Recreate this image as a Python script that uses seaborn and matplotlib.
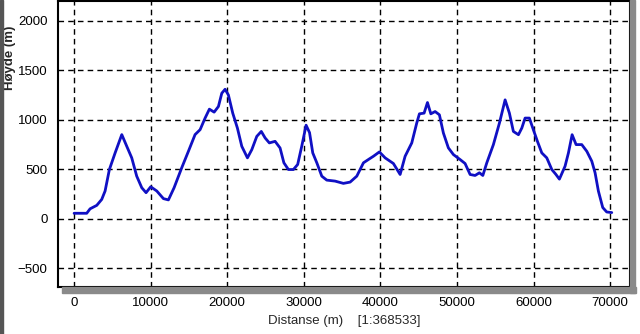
import numpy as np
import pandas as pd
import matplotlib
matplotlib.use("Agg")
import matplotlib.pyplot as plt
from matplotlib.patches import Rectangle
from matplotlib.ticker import MultipleLocator
import seaborn as sns

# profile
distance = [0, 1650, 2090, 2960, 3610, 4050, 4610, 5360, 6230, 6880, 7530, 8180,
            8840, 9400, 10010, 10800, 11670, 12320, 13060, 14060, 14930, 15800,
            16460, 17110, 17670, 18290, 18850, 19290, 19720, 20150, 20720, 21330,
            21900, 22640, 23210, 23860, 24450, 24950, 25500, 26250, 26900, 27400,
            27990, 28640, 29200, 29730, 30300, 30750, 31170, 31700, 32350, 33000,
            34090, 35170, 36050, 36920, 37790, 38570, 39090, 39870, 40620, 41700,
            42580, 43230, 44100, 44750, 45100, 45710, 46150, 46590, 47150, 47710,
            48230, 48880, 49540, 50410, 51060, 51720, 52370, 52930, 53380, 53900,
            54760, 55550, 56290, 56850, 57370, 58030, 58470, 58900, 59460, 59980,
            60510, 61080, 61730, 62390, 62900, 63380, 64120, 64560, 65040, 65560,
            66300, 66960, 67610, 68040, 68470, 69040, 69560, 70220]
elevation = [55, 55, 100, 135, 195, 280, 497, 665, 850, 732, 615, 430,
             313, 263, 323, 280, 203, 190, 313, 515, 681, 850,
             900, 1017, 1107, 1077, 1134, 1268, 1308, 1251, 1067, 916,
             732, 615, 698, 832, 882, 816, 766, 782, 715, 565,
             497, 497, 548, 732, 945, 870, 665, 565, 430, 390,
             380, 357, 370, 430, 565, 605, 631, 675, 615, 558,
             447, 631, 766, 967, 1060, 1067, 1174, 1060, 1083, 1050,
             866, 716, 648, 598, 558, 447, 437, 464, 437, 565,
             749, 967, 1201, 1067, 882, 849, 916, 1017, 1017, 899,
             782, 665, 615, 497, 450, 400, 531, 665, 849, 749,
             749, 681, 581, 464, 280, 113, 68, 62]

x_ticks = [0, 10000, 20000, 30000, 40000, 50000, 60000, 70000]
y_ticks = [-500, 0, 500, 1000, 1500, 2000]

df = pd.DataFrame({"Distanse": distance, "Hoyde": elevation})

sns.set_style("white")
plt.rcParams["font.family"] = ["Liberation Sans", "DejaVu Sans"]

fig = plt.figure(figsize=(6.4, 3.34), dpi=100)
ax = fig.add_axes([58 / 640, 47 / 334, 572 / 640, 286 / 334])

# shadow and border bits around the plot
fig.patches.append(Rectangle((62 / 640, 41 / 334), 574 / 640, 6 / 334,
                             transform=fig.transFigure, color="#8a8a8a", zorder=0))
fig.patches.append(Rectangle((630 / 640, 41 / 334), 5 / 640, 293 / 334,
                             transform=fig.transFigure, color="#8a8a8a", zorder=0))
fig.patches.append(Rectangle((0, 0), 3 / 640, 1,
                             transform=fig.transFigure, color="#555555", zorder=0))

sns.lineplot(data=df, x="Distanse", y="Hoyde", ax=ax, color="#1010c4",
             linewidth=2.0, zorder=3)

ax.set_xlim(-2100, 72600)
ax.set_ylim(-690, 2200)
ax.set_xticks(x_ticks)
ax.set_yticks(y_ticks)
ax.xaxis.set_minor_locator(MultipleLocator(5000))
ax.yaxis.set_minor_locator(MultipleLocator(100))
ax.grid(True, which="major", color="black", linestyle=(0, (4, 3)), linewidth=1.0)

ax.tick_params(axis="both", which="major", direction="out", length=4, width=1,
               labelsize=9.5, colors="black")
ax.tick_params(axis="both", which="minor", direction="in", length=6, width=1,
               colors="black")
ax.tick_params(axis="x", which="minor", length=7)

for s in ax.spines.values():
    s.set_color("black")
    s.set_linewidth(1.5)

ax.set_xlabel("Distanse (m)    [1:368533]", fontsize=9.5, labelpad=4)
ax.set_ylabel("Høyde (m)", fontsize=9.5, fontweight="bold")
ax.yaxis.set_label_coords(-0.073, 0.80)

fig.savefig("out.png", dpi=100, facecolor="white")
